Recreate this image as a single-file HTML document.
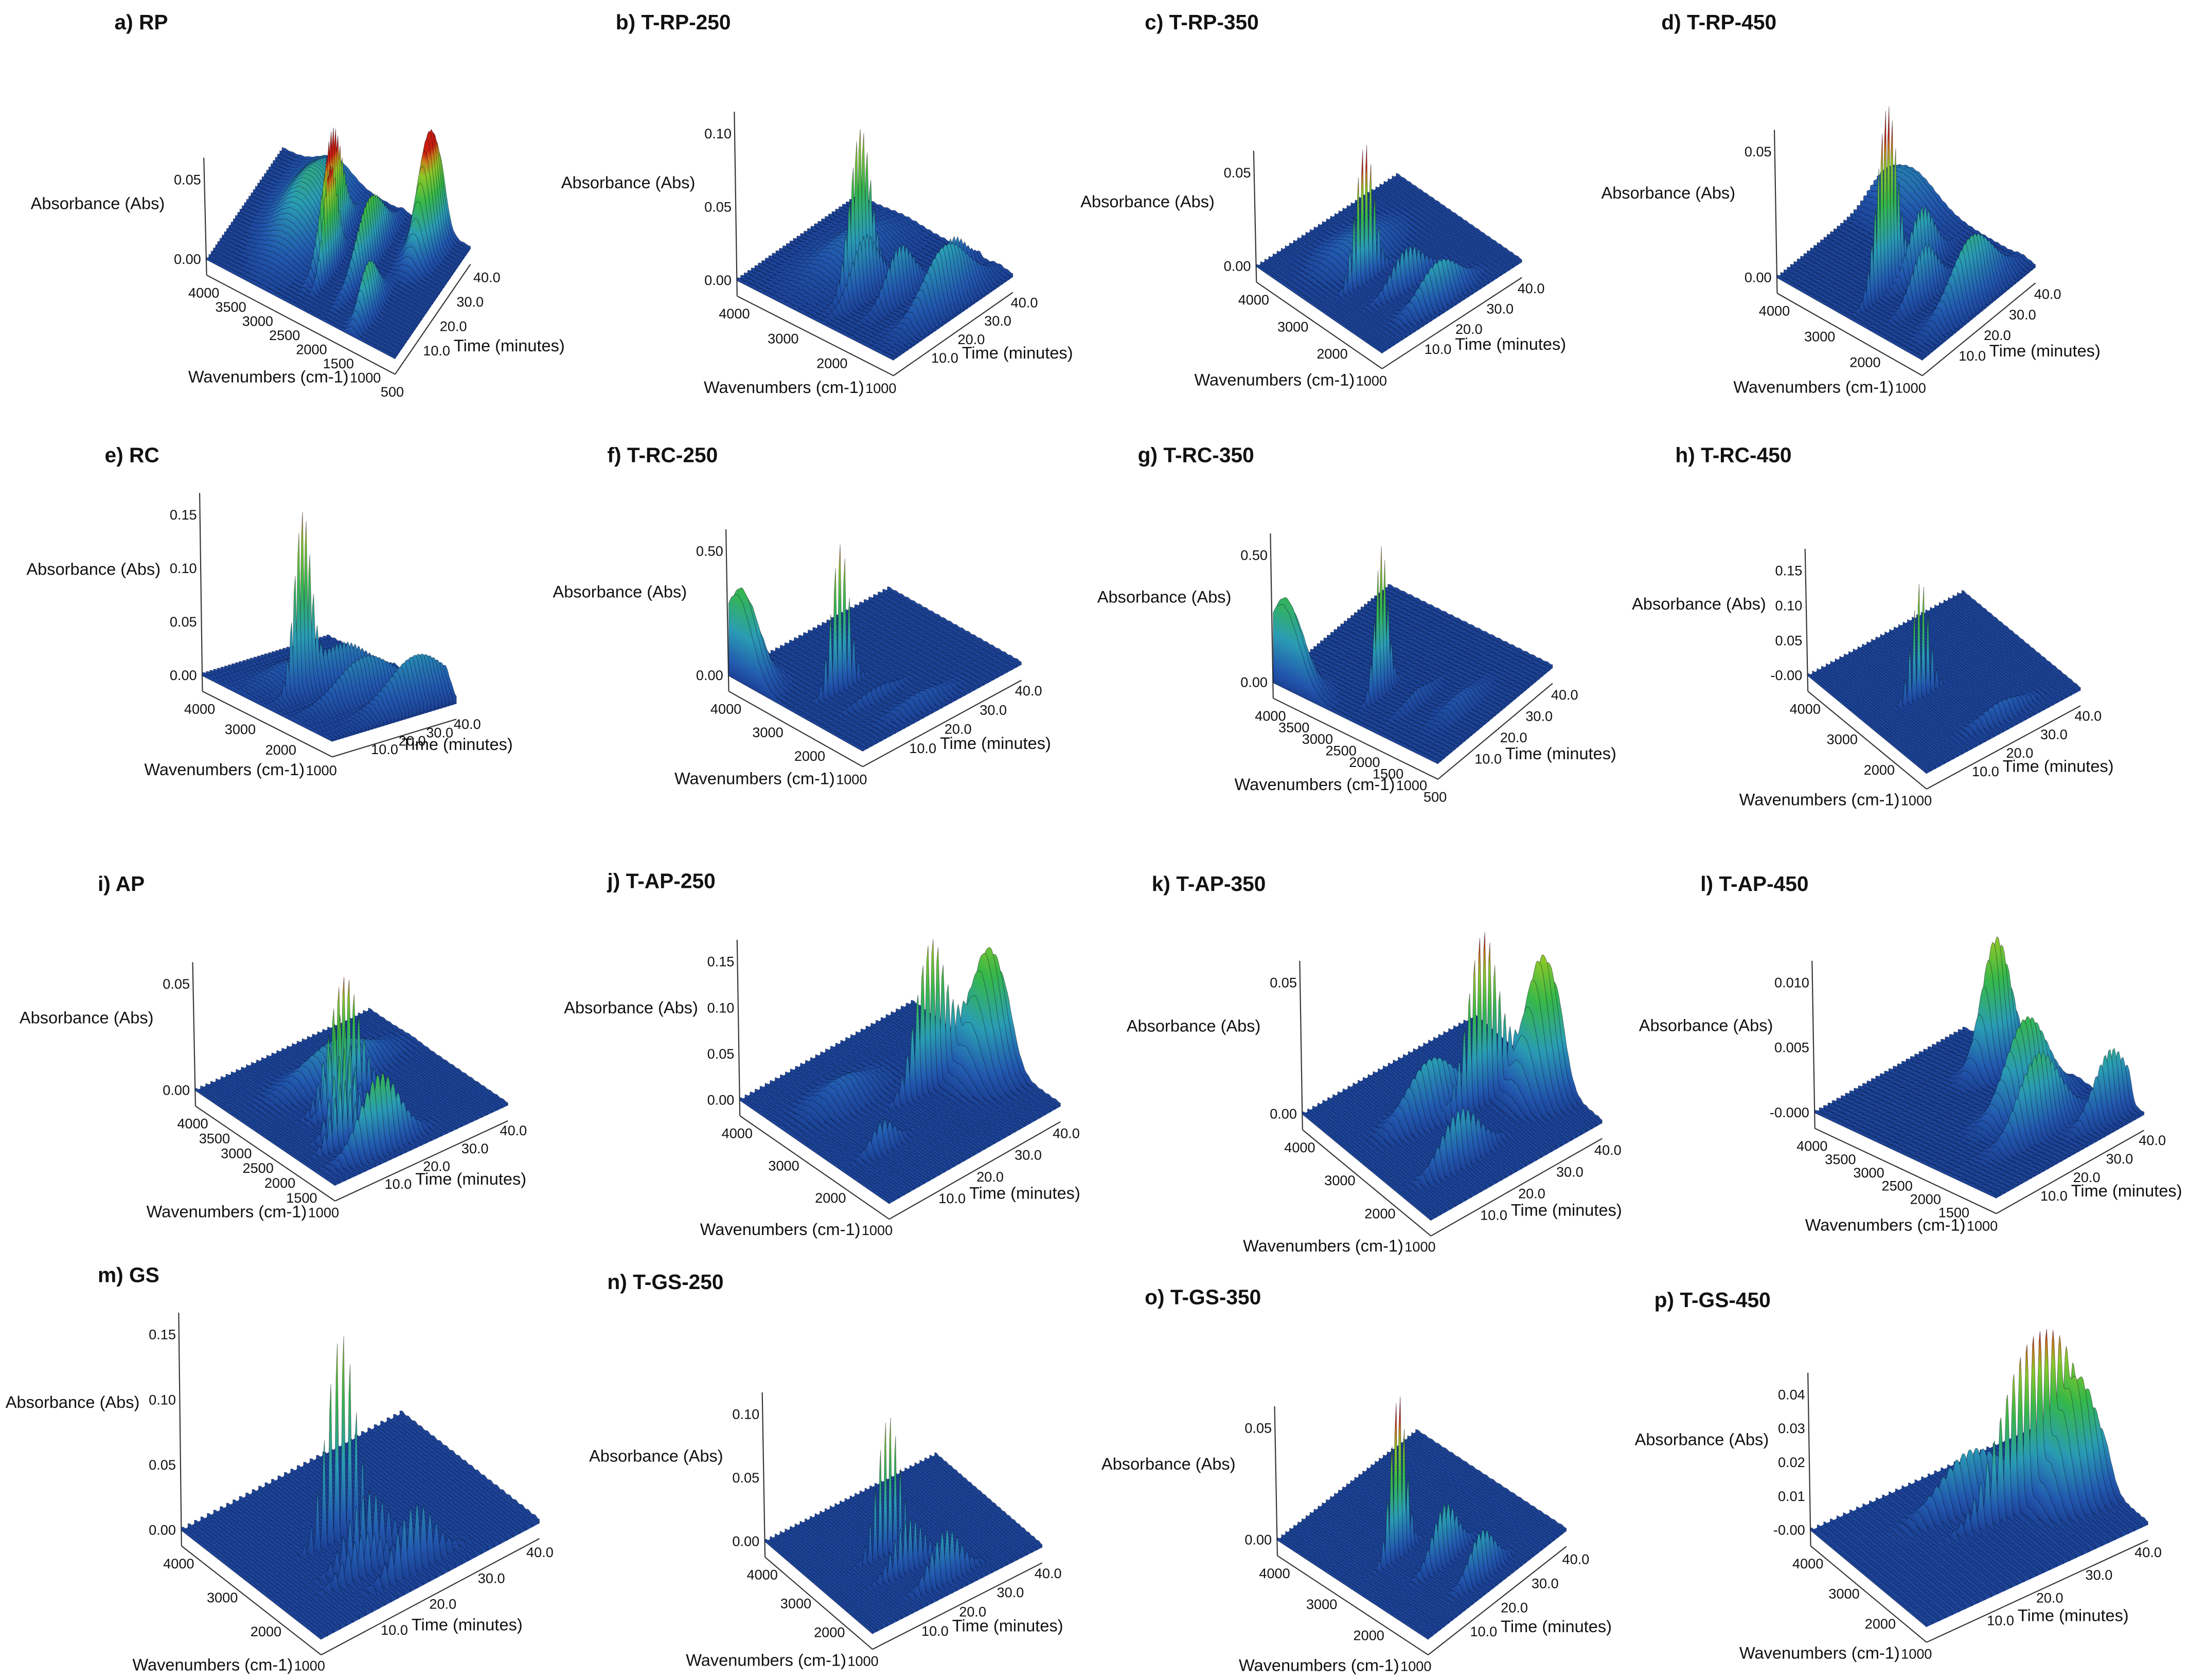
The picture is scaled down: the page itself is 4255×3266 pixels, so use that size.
<!DOCTYPE html>
<html><head><meta charset="utf-8"><style>
html,body{margin:0;padding:0;background:#fff;}
svg{display:block;}
text{font-family:"Liberation Sans",Arial,sans-serif;}
</style></head>
<body>
<svg id="fig" xmlns="http://www.w3.org/2000/svg" width="4255" height="3266" viewBox="0 0 1568 1203" preserveAspectRatio="none">
<defs id="defs"></defs>
</svg>
<script>
// ---------- data ----------
const panelTitles = ["a) RP","b) T-RP-250","c) T-RP-350","d) T-RP-450","e) RC","f) T-RC-250","g) T-RC-350","h) T-RC-450","i) AP","j) T-AP-250","k) T-AP-350","l) T-AP-450","m) GS","n) T-GS-250","o) T-GS-350","p) T-GS-450"];
const absTicks = [["0.00","0.05"],["0.00","0.05","0.10"],["0.00","0.05"],["0.00","0.05"],["0.00","0.05","0.10","0.15"],["0.00","0.50"],["0.00","0.50"],["-0.00","0.05","0.10","0.15"],["0.00","0.05"],["0.00","0.05","0.10","0.15"],["0.00","0.05"],["-0.000","0.005","0.010"],["0.00","0.05","0.10","0.15"],["0.00","0.05","0.10"],["0.00","0.05"],["-0.00","0.01","0.02","0.03","0.04"]];
const wnTicks = [[4000,3500,3000,2500,2000,1500,1000,500],[4000,3000,2000,1000],[4000,3000,2000,1000],[4000,3000,2000,1000],[4000,3000,2000,1000],[4000,3000,2000,1000],[4000,3500,3000,2500,2000,1500,1000,500],[4000,3000,2000,1000],[4000,3500,3000,2500,2000,1500,1000],[4000,3000,2000,1000],[4000,3000,2000,1000],[4000,3500,3000,2500,2000,1500,1000],[4000,3000,2000,1000],[4000,3000,2000,1000],[4000,3000,2000,1000],[4000,3000,2000,1000]];
const timeTicks = [10,20,30,40];
const peakWn = [[2350,2200,1750,1100,3000,1300],[2350,2200,1750,1100,3000,1500],[2350,1750,1100,3000],[2350,2200,1750,1100,3500],[2350,2300,1700,1100,3000],[2350,3800,1750,1100],[2350,3800,1750,1100],[2350,1100],[2350,2200,1750,1500,1100,3000],[2350,2100,1750,3000],[2350,2000,2700,1500],[3000,2000,1500,1100],[2350,1750,1100,1500],[2350,1750,1100],[2350,1750,1100],[2350,2100,3000]];
const peakAbs = [[0.075,0.07,0.04,0.07,0.025,0.03],[0.11,0.04,0.035,0.04,0.015,0.025],[0.075,0.02,0.02,0.008],[0.075,0.025,0.02,0.025,0.012],[0.16,0.04,0.04,0.045,0.015],[0.6,0.35,0.04,0.04],[0.58,0.33,0.04,0.04],[0.17,0.02],[0.06,0.045,0.04,0.03,0.035,0.015],[0.16,0.13,0.03,0.02],[0.065,0.05,0.02,0.02],[0.010,0.007,0.006,0.005],[0.16,0.05,0.05,0.03],[0.11,0.04,0.04],[0.075,0.025,0.02],[0.045,0.035,0.015]];
const peakTime = [[22,16,25,40,30,10],[16,15,20,25,25,35],[14,20,22,20],[14,25,18,25,42],[12,25,25,35,20],[12,1,15,20],[12,1,15,20],[15,25],[20,17,13,10,15,25],[30,42,10,15],[30,42,20,15],[38,30,25,40],[18,18,22,15],[18,18,22],[14,20,22],[32,40,25]];
const peakSpread = [[6,4,8,6,12,5],[4,5,5,8,10,5],[3,5,6,8],[4,5,5,8,6],[3,10,10,10,10],[2.5,3,5,6],[2.5,3,5,6],[2.5,6],[4,3,3,3,5,8],[4,4,3,6],[4,4,6,5],[4,6,6,5],[3,4,4,4],[3,4,4],[2.5,4,4],[6,4,6]];
const peakWidth = [[40,35,60,130,300,80],[35,50,60,120,300,60],[30,60,120,300],[30,60,60,120,500],[35,80,120,150,300],[30,350,60,120],[30,350,60,120],[28,100],[35,40,40,40,90,200],[40,250,60,200],[40,250,150,80],[120,130,90,70],[30,45,50,50],[30,45,60],[28,50,60],[60,250,150]];

// ---------- layout (pixel geometry, not data) ----------
const geoL = [[148,185],[528,200],[900,190],[1273,198],[145,483],[522,483],[912,488],[1295,483],[140,780],[530,787],[933,797],[1300,796],[130,1095],[548,1103],[915,1102],[1297,1095]];
const geoF = [[283,256],[640,257],[990,252],[1377,257],[238,530],[618,537],[1030,546],[1380,553],[240,848],[637,861],[1025,873],[1430,857],[230,1173],[625,1169],[1023,1173],[1380,1164]];
const geo40 = [[345,182],[730,200],[1093,190],[1463,194],[331,502],[733,478],[1117,481],[1492,496],[364,793],[760,795],[1148,807],[1538,800],[383,1095],[747,1110],[1125,1100],[1535,1095]];
const geoTickY = [128,95,123,108,368,394,397,408,704,688,703,703,955,1012,1022,998];
const wnEndVal = [500,800,800,800,800,800,500,800,800,800,800,800,800,800,800,800];
const titlePos = [[82,15],[441,15],[820,15],[1190,15],[75,325],[435,325],[815,325],[1200,325],[70,632],[435,630],[825,632],[1218,632],[70,912],[435,917],[820,928],[1185,930]];

const NS="http://www.w3.org/2000/svg";
const svg=document.getElementById('fig');
const defs=document.getElementById('defs');
function mk(tag,attrs,parent){const e=document.createElementNS(NS,tag);for(const k in attrs)e.setAttribute(k,attrs[k]);(parent||svg).appendChild(e);return e;}
let gid=0;
const STOPS=[[0,'#1b3f92'],[0.1,'#2258ae'],[0.32,'#2a9cb4'],[0.58,'#36b84a'],[0.8,'#8cc828'],[0.92,'#c87a18'],[1,'#c81c10']];

for(let p=0;p<16;p++){
  const g=mk('g',{});
  
  
  const L=geoL[p],F=geoF[p],l40=geo40[p];
  const wnEnd=wnEndVal[p];
  const ticks=absTicks[p];
  const topVal=parseFloat(ticks[ticks.length-1]);
  const scale=(L[1]-geoTickY[p])/topVal;
  const Wv=[F[0]-L[0],F[1]-L[1]];
  const Tv=[(l40[0]-14-F[0])*45/40,(l40[1]+4-F[1])*45/40];
  function wx(wn){return (4000-wn)/(4000-wnEnd);}
  function proj(wn,t,a){const u=wx(wn),v=t/45;return [L[0]+Wv[0]*u+Tv[0]*v, L[1]+Wv[1]*u+Tv[1]*v-a*scale];}
  function val(wn,t){
    let s=topVal*0.015*(1+0.3*Math.sin(wn/23));
    const pw=peakWn[p],ph=peakAbs[p],pt=peakTime[p],ps=peakSpread[p],pwd=peakWidth[p];
    for(let k=0;k<pw.length;k++){
      const dw=(wn-pw[k])/pwd[k],dt=(t-pt[k])/ps[k];
      s+=ph[k]*Math.exp(-0.5*dw*dw)*Math.exp(-0.5*dt*dt);
    }
    return s;
  }
  const tt=mk('text',{x:titlePos[p][0],y:titlePos[p][1]+6,'font-size':15,'font-weight':'bold',fill:'#111'},g);
  tt.textContent=panelTitles[p];
  
  
  const axOff=[0,12];
  const a0=[L[0]+axOff[0],L[1]+axOff[1]];
  const aF=[F[0]+axOff[0],F[1]+axOff[1]];
  const axW=mk('line',{x1:a0[0],y1:a0[1],x2:aF[0],y2:aF[1],stroke:'#333','stroke-width':0.8},g);
  
  
  const axT=mk('line',{x1:aF[0],y1:aF[1],x2:aF[0]+Tv[0],y2:aF[1]+Tv[1],stroke:'#333','stroke-width':0.8},g);
  
  
  const axA=mk('line',{x1:a0[0],y1:a0[1],x2:a0[0]-2,y2:geoTickY[p]-15,stroke:'#333','stroke-width':0.8},g);
  
  
  for(let i=0;i<ticks.length;i++){
    const v=parseFloat(ticks[i]);
    const y=L[1]-v*scale;
    const t=mk('text',{x:L[0]-4,y:y+4,'font-size':10,'text-anchor':'end',fill:'#111'},g);
    t.textContent=ticks[i];
    
    
  }
  const al=mk('text',{x:L[0]-30,y:L[1]-(L[1]-geoTickY[p])*0.62,'font-size':12,'text-anchor':'end',fill:'#111'},g);
  al.textContent='Absorbance (Abs)';
  
  
  const wt=wnTicks[p];
  for(let i=0;i<wt.length;i++){
    const q=proj(wt[i],0,0);
    const t=mk('text',{x:q[0]-2+axOff[0],y:q[1]+axOff[1]+16,'font-size':10,'text-anchor':'middle',fill:'#111'},g);
    t.textContent=wt[i];
    
    
  }
  const wq=proj(1000,0,0);
  const wl=mk('text',{x:wq[0]-14,y:wq[1]+axOff[1]+16,'font-size':12,'text-anchor':'end',fill:'#111'},g);
  wl.textContent='Wavenumbers (cm-1)';
  
  
  for(let i=0;i<timeTicks.length;i++){
    const q=proj(wnEnd,timeTicks[i],0);
    const t=mk('text',{x:q[0]+axOff[0]+8,y:q[1]+axOff[1]+4,'font-size':10,fill:'#111'},g);
    t.textContent=timeTicks[i].toFixed(1);
    
    
  }
  const tq=proj(wnEnd,10,0);
  const tl=mk('text',{x:tq[0]+axOff[0]+30,y:tq[1]+axOff[1]+1,'font-size':12,fill:'#111'},g);
  tl.textContent='Time (minutes)';
  
  
  const c1=proj(4000,0,0),c2=proj(wnEnd,0,0),c3=proj(wnEnd,45,0),c4=proj(4000,45,0);
  const fl=mk('polygon',{points:[c1,c2,c3,c4].map(c=>c[0].toFixed(1)+','+(c[1]+1).toFixed(1)).join(' '),fill:'#1d4496'},g);
  
  
  const wl2=Math.hypot(Wv[0],Wv[1]);
  const nx=Wv[1]/wl2, ny=-Wv[0]/wl2;
  const fullPx=topVal*scale*1.25;
  const gLen=fullPx*Wv[0]/wl2;
  const NS_T=34,NW=110;
  for(let s=NS_T;s>=0;s--){
    const t=45*s/NS_T;
    const pts=[];
    for(let j=0;j<=NW;j++){
      const wn=4000-(4000-wnEnd)*j/NW;
      const q=proj(wn,t,val(wn,t));
      pts.push(q[0].toFixed(1)+','+q[1].toFixed(1));
    }
    const e1=proj(wnEnd,t,0),e0=proj(4000,t,0);
    pts.push(e1[0].toFixed(1)+','+(e1[1]+1).toFixed(1));
    pts.push(e0[0].toFixed(1)+','+(e0[1]+1).toFixed(1));
    const id='gr'+(gid++);
    const lg=mk('linearGradient',{id:id,gradientUnits:'userSpaceOnUse',x1:e0[0],y1:e0[1]+2,x2:e0[0]+nx*gLen,y2:e0[1]+2+ny*gLen},defs);
    STOPS.forEach(st=>mk('stop',{offset:st[0],'stop-color':st[1]},lg));
    const poly=mk('polygon',{points:pts.join(' '),fill:'url(#'+id+')',stroke:'rgba(0,0,20,0.4)','stroke-width':0.4},g);
    
    
  }
}
</script>
</body></html>
